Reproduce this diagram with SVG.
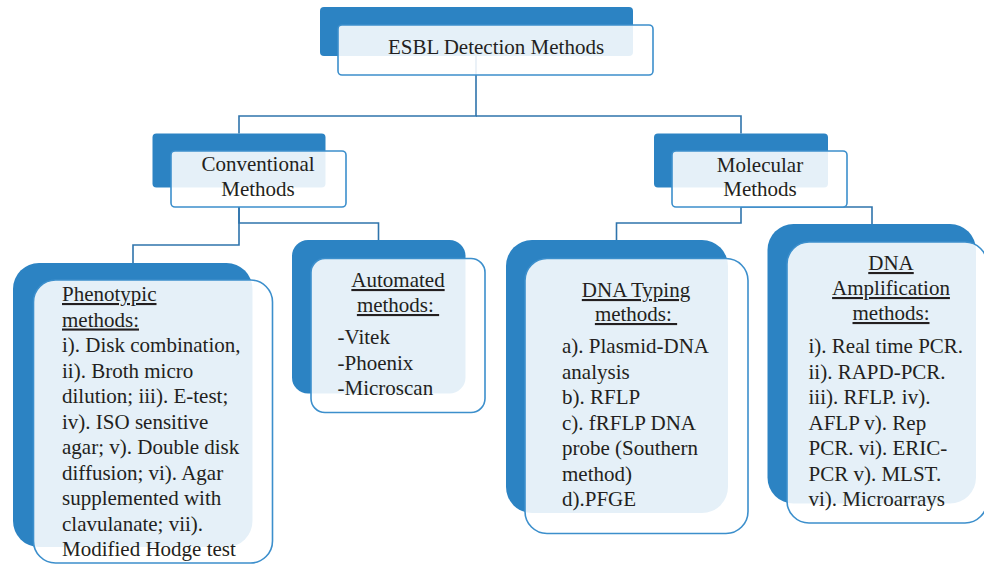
<svg xmlns="http://www.w3.org/2000/svg" width="984" height="565" viewBox="0 0 984 565">
<style>
.back{fill:#2C83C3;}
.front{fill:#ffffff;fill-opacity:0.88;stroke:#3C8FCC;stroke-width:1.6;}
.conn{fill:none;stroke:#2F74AC;stroke-width:1.6;}
text{font-family:'Liberation Serif','DejaVu Serif','Times New Roman',serif;font-size:21px;fill:#231F20;}
.c{text-anchor:middle;}
.u{text-decoration:underline;}
</style>
<rect width="984" height="565" fill="#ffffff"/>
<g id="connectors">
<path class="conn" d="M476,56 V116 H239 V133.5"/>
<path class="conn" d="M476,116 H741 V133.5"/>
<path class="conn" d="M239,207 V245 H133 V263"/>
<path class="conn" d="M239,207 V223 H378.5 V240"/>
<path class="conn" d="M741,207 V223 H616.5 V240"/>
<path class="conn" d="M741,207 H872 V224"/>
</g>
<g id="esbl">
<rect class="back" x="320" y="7" width="313" height="49" rx="4"/>
<rect class="front" x="338" y="25" width="315" height="50" rx="4"/>
<text class="c" x="496" y="54" font-family="Liberation Serif, serif">ESBL Detection Methods</text>
</g>
<g id="conventional">
<rect class="back" x="152.5" y="133.5" width="173" height="54" rx="4"/>
<rect class="front" x="171" y="151" width="175" height="56" rx="4"/>
<text class="c" x="258" y="171">Conventional</text>
<text class="c" x="258" y="196">Methods</text>
</g>
<g id="molecular">
<rect class="back" x="654" y="133.5" width="174" height="54" rx="4"/>
<rect class="front" x="672" y="151" width="175" height="56" rx="4"/>
<text class="c" x="760" y="172">Molecular</text>
<text class="c" x="760" y="196">Methods</text>
</g>
<g id="phenotypic">
<rect class="back" x="13" y="263" width="239.5" height="284" rx="26"/>
<rect class="front" x="33.5" y="280" width="239" height="283" rx="22"/>
<text x="62" y="301"><tspan class="u">Phenotypic</tspan></text>
<text x="62" y="326.5"><tspan class="u">methods:</tspan></text>
<text x="62" y="352">i). Disk combination,</text>
<text x="62" y="377.5">ii). Broth micro</text>
<text x="62" y="403">dilution; iii). E-test;</text>
<text x="62" y="428.5">iv). ISO sensitive</text>
<text x="62" y="454">agar; v). Double disk</text>
<text x="62" y="479.5">diffusion; vi). Agar</text>
<text x="62" y="505">supplemented with</text>
<text x="62" y="530.5">clavulanate; vii).</text>
<text x="62" y="556">Modified Hodge test</text>
</g>
<g id="automated">
<rect class="back" x="292" y="240" width="173.5" height="153.5" rx="16"/>
<rect class="front" x="311" y="258.5" width="174" height="154" rx="14"/>
<text class="c u" x="398" y="287">Automated</text>
<text class="c u" x="398" y="312" xml:space="preserve">methods: </text>
<text x="337.5" y="343.5">-Vitek</text>
<text x="337.5" y="369.5">-Phoenix</text>
<text x="337.5" y="395">-Microscan</text>
</g>
<g id="dna-typing">
<rect class="back" x="506" y="240" width="222" height="273" rx="26"/>
<rect class="front" x="525" y="258.5" width="223" height="275" rx="22"/>
<text class="c u" x="636" y="297">DNA Typing</text>
<text class="c u" x="636" y="321" xml:space="preserve">methods: </text>
<text x="562" y="353">a). Plasmid-DNA</text>
<text x="562" y="378.5">analysis</text>
<text x="562" y="404">b). RFLP</text>
<text x="562" y="429.5">c). fRFLP DNA</text>
<text x="562" y="455">probe (Southern</text>
<text x="562" y="480.5">method)</text>
<text x="562" y="506">d).PFGE</text>
</g>
<g id="dna-amplification">
<rect class="back" x="767.5" y="224" width="208.5" height="279.5" rx="26"/>
<rect class="front" x="787" y="242" width="200" height="281" rx="22"/>
<text class="c u" x="891" y="270">DNA</text>
<text class="c u" x="891" y="295">Amplification</text>
<text class="c u" x="891" y="320">methods:</text>
<text x="808.5" y="353">i). Real time PCR.</text>
<text x="808.5" y="378.5">ii). RAPD-PCR.</text>
<text x="808.5" y="404">iii). RFLP. iv).</text>
<text x="808.5" y="429.5">AFLP v). Rep</text>
<text x="808.5" y="455">PCR. vi). ERIC-</text>
<text x="808.5" y="480.5">PCR v). MLST.</text>
<text x="808.5" y="506">vi). Microarrays</text>
</g>
</svg>
